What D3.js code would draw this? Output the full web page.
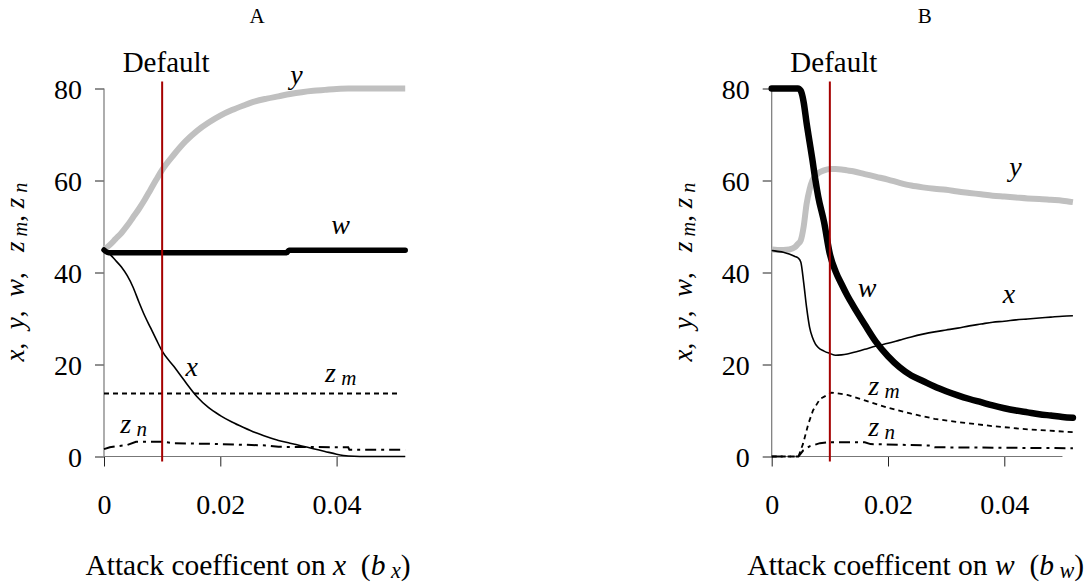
<!DOCTYPE html>
<html><head><meta charset="utf-8">
<script src="https://cdn.jsdelivr.net/npm/d3@7"></script>
<style>
body{margin:0;background:#fff}
text{font-family:"Liberation Serif","Tinos","DejaVu Serif","Noto Serif","Times New Roman",serif;fill:#000;white-space:pre}
</style>
</head><body>
<svg id="chart" width="1091" height="585"></svg>
<script>
// ---------- DATA ----------
const xTicks = [0, 0.02, 0.04];
const yTicks = [0, 20, 40, 60, 80];
const defaultCoef = 0.01;
const panelTitles = ["A", "B"];

// Panel A : attack coefficient on x (b_x)
const gridA = [0,0.001,0.002,0.003,0.004,0.005,0.006,0.007,0.008,0.009,0.010,0.012,0.014,0.016,0.018,0.020,0.022,0.024,0.026,0.028,0.030,0.032,0.034,0.036,0.038,0.040,0.042,0.044,0.046,0.048,0.050,0.0518];
const aY = [45,46,47.3,48.6,50.2,52,53.8,55.8,58,60.2,62.3,65.6,68.5,70.8,72.6,74.1,75.3,76.3,77.2,77.8,78.3,78.8,79.2,79.5,79.7,79.9,80,80,80,80,80,80];
const aX = [45,44,42.6,41.2,39.3,36.8,33.6,30.6,28,25.4,22.9,19.6,16.2,13,10.6,8.9,7.5,6.3,5.2,4.3,3.5,2.9,2.3,1.7,1.1,0.5,0.1,0,0,0,0,0];
const aWx = [0,0.0008,0.0314,0.0318,0.0518];
const aW  = [44.9,44.3,44.3,44.85,44.85];
const aZmX = [0,0.0505];
const aZm  = [13.7,13.7];
const aZnX = [0,0.001,0.002,0.004,0.0055,0.010,0.012,0.020,0.028,0.030,0.042,0.0422,0.0518];
const aZn  = [1.6,2.0,2.2,2.5,3.2,3.2,2.9,2.7,2.4,2.1,2.0,1.45,1.45];

// Panel B : attack coefficient on w (b_w)
const gridB = [0,0.001,0.002,0.003,0.004,0.0045,0.005,0.0055,0.006,0.0065,0.007,0.0075,0.008,0.009,0.010,0.011,0.012,0.013,0.014,0.016,0.018,0.020,0.022,0.024,0.026,0.028,0.030,0.032,0.034,0.036,0.038,0.040,0.042,0.044,0.046,0.048,0.050,0.0518];
const bY = [45,44.9,44.9,45,45.5,46.2,47,50,54.9,58,60,61,61.6,62.2,62.5,62.5,62.4,62.2,62,61.4,60.8,60.2,59.5,58.9,58.5,58.2,58,57.6,57.3,57,56.7,56.5,56.3,56.1,56,55.8,55.6,55.3];
const bW = [80,80,80,80,80,80,79.5,77,72.5,68.5,64.5,60.2,56.5,51,44,40.2,37.5,35,32.8,28.7,24.8,21.8,19.4,17.6,16.4,15.2,14.2,13.3,12.5,11.8,11.1,10.5,10,9.6,9.2,8.9,8.6,8.4];
const bX = [44.8,44.6,44.4,44,43.5,43.2,42.3,37.8,32.4,28.2,25.9,24.5,23.7,22.9,22.4,22,22.1,22.3,22.6,23.3,24,24.6,25.3,26,26.6,27.1,27.5,27.9,28.4,28.8,29.2,29.4,29.7,29.9,30.1,30.3,30.5,30.6];
const bZmX = [0,0.0046,0.0054,0.0063,0.0071,0.0083,0.0103,0.013,0.016,0.020,0.024,0.028,0.032,0.038,0.044,0.0518];
const bZm  = [0,0,2.8,7.1,10,12.5,13.9,13.4,12.2,10.6,9.3,8.2,7.5,6.6,5.9,5.3];
const bZnX = [0,0.0046,0.0054,0.0065,0.0083,0.010,0.016,0.017,0.027,0.028,0.0518];
const bZn  = [0,0,1.3,2.2,2.9,3.1,3.1,2.7,2.4,2.0,1.8];

// ---------- DRAW ----------
const svg = d3.select("#chart");
svg.append("rect").attr("width",1091).attr("height",585).attr("fill","#fff");
const FONT = '"Liberation Serif","Tinos","DejaVu Serif","Noto Serif","Times New Roman",serif';

const PXU = 5815;           // pixels per unit of attack coefficient
const y = d3.scaleLinear().domain([0,80]).range([456.5, 88.5]);

function rich(g, parts, size) {
  const t = g.append("text").attr("font-size", size).attr("font-family", FONT);
  parts.forEach(p => {
    const s = t.append("tspan").text(p.t);
    if (p.i) s.attr("font-style","italic");
    if (p.sub) { s.attr("font-size", size*0.75).attr("dy", 3); }
    else if (p.after) { s.attr("dy", -3); }
  });
  return t;
}

function panel(cfg) {
  const g = svg.append("g");
  const x = d3.scaleLinear().domain([0, 0.0518]).range([cfg.left, cfg.left + 0.0518*PXU]);

  // axes
  const yAx = g.append("g").attr("transform",`translate(${cfg.left},0)`)
    .call(d3.axisLeft(y).tickValues(yTicks).tickSize(9).tickSizeOuter(0).tickPadding(13).tickFormat(d3.format("d")));
  yAx.attr("font-family", FONT);
  yAx.select(".domain").remove();
  yAx.selectAll("line").attr("stroke","#222");
  yAx.selectAll("text").attr("font-size",28).attr("font-family",FONT).attr("dy","0.34em");
  g.append("line").attr("x1",cfg.left).attr("x2",cfg.left).attr("y1",y(0)).attr("y2",y(80))
    .attr("stroke","#777").attr("stroke-width",1.2);

  const xAx = g.append("g").attr("transform",`translate(0,${y(0)})`)
    .call(d3.axisBottom(x).tickValues(xTicks).tickSize(10).tickSizeOuter(0).tickPadding(28)
      .tickFormat(d => d===0 ? "0" : d3.format(".2f")(d)));
  xAx.attr("font-family", FONT);
  xAx.select(".domain").remove();
  xAx.selectAll("line").attr("stroke","#222");
  xAx.selectAll("text").attr("font-size",28).attr("font-family",FONT);
  g.append("line").attr("x1",x(0)).attr("x2",x(cfg.axisEnd)).attr("y1",y(0)).attr("y2",y(0))
    .attr("stroke","#777").attr("stroke-width",1.2);

  const line = (xs, vs, curve) => d3.line().x((d,i)=>x(xs[i])).y(d=>y(d)).curve(curve||d3.curveMonotoneX)(vs);

  // series
  g.append("path").attr("d", line(cfg.gridY, cfg.yv)).attr("fill","none").attr("stroke","#c0c0c0").attr("stroke-width",6).attr("stroke-linejoin","round");
  g.append("path").attr("d", line(cfg.zmX, cfg.zm, d3.curveLinear)).attr("fill","none").attr("stroke","#000").attr("stroke-width",1.8).attr("stroke-dasharray","5,4");
  g.append("path").attr("d", line(cfg.znX, cfg.zn, d3.curveLinear)).attr("fill","none").attr("stroke","#000").attr("stroke-width",2).attr("stroke-dasharray","11,5,3,5");
  g.append("path").attr("d", line(cfg.gridX, cfg.xv)).attr("fill","none").attr("stroke","#000").attr("stroke-width",1.6);
  g.append("path").attr("d", line(cfg.wX, cfg.wv)).attr("fill","none").attr("stroke","#000").attr("stroke-width",cfg.wWidth).attr("stroke-linecap","round").attr("stroke-linejoin","round");

  // default line
  g.append("line").attr("x1",x(defaultCoef)).attr("x2",x(defaultCoef)).attr("y1",y(81.5)).attr("y2",y(-1.1))
    .attr("stroke","#a50000").attr("stroke-width",2);
  g.append("text").attr("x",x(defaultCoef)+4).attr("y",72).attr("text-anchor","middle").attr("font-size",29).attr("font-family",FONT).text("Default");

  // panel title
  g.append("text").attr("x",cfg.left+153).attr("y",23).attr("text-anchor","middle").attr("font-size",21).attr("font-family",FONT).text(cfg.title);

  // series labels
  cfg.labels.forEach(l => {
    const lg = g.append("g").attr("transform",`translate(${x(l.x)},${y(l.y)})`);
    const parts = l.sub ? [{t:l.name,i:true},{t:" "+l.sub,i:true,sub:true}] : [{t:l.name,i:true}];
    rich(lg, parts, 28).attr("text-anchor", l.sub ? "start" : "middle");
  });

  // y axis title
  const yt = g.append("g").attr("transform",`translate(${cfg.left-80},272) rotate(-90)`);
  rich(yt, [{t:"x",i:true},{t:",  "},{t:"y",i:true},{t:",  "},{t:"w",i:true},{t:",   "},{t:"z",i:true},{t:" m",i:true,sub:true},{t:", ",after:true},{t:"z",i:true},{t:" n",i:true,sub:true}], 27)
    .attr("text-anchor","middle");

  // x axis title
  const xt = g.append("g").attr("transform",`translate(${cfg.left+144},575)`);
  rich(xt, [{t:"Attack coefficent on "},{t:cfg.varName,i:true},{t:"  ("},{t:"b",i:true},{t:" "+cfg.varName,i:true,sub:true},{t:")",after:true}], 29.5)
    .attr("text-anchor","middle");
}

panel({left:104, axisEnd:0.0518, title:panelTitles[0], varName:"x",
  gridY:gridA, yv:aY, gridX:gridA, xv:aX, wX:aWx, wv:aW, wWidth:5.5,
  zmX:aZmX, zm:aZm, znX:aZnX, zn:aZn,
  labels:[{name:"y",x:0.0331,y:81},{name:"w",x:0.0407,y:48.4},{name:"x",x:0.0151,y:17.4},
          {name:"z",sub:"m",x:0.0380,y:16.3},{name:"z",sub:"n",x:0.0028,y:5.1}]});

panel({left:771.7, axisEnd:0.05, title:panelTitles[1], varName:"w",
  gridY:gridB, yv:bY, gridX:gridB, xv:bX, wX:gridB, wv:bW, wWidth:6.5,
  zmX:bZmX, zm:bZm, znX:bZnX, zn:bZn,
  labels:[{name:"y",x:0.0419,y:61.0},{name:"w",x:0.0164,y:34.7},{name:"x",x:0.0408,y:33.3},
          {name:"z",sub:"m",x:0.0166,y:13.3},{name:"z",sub:"n",x:0.0166,y:4.5}]});
</script>
</body></html>
